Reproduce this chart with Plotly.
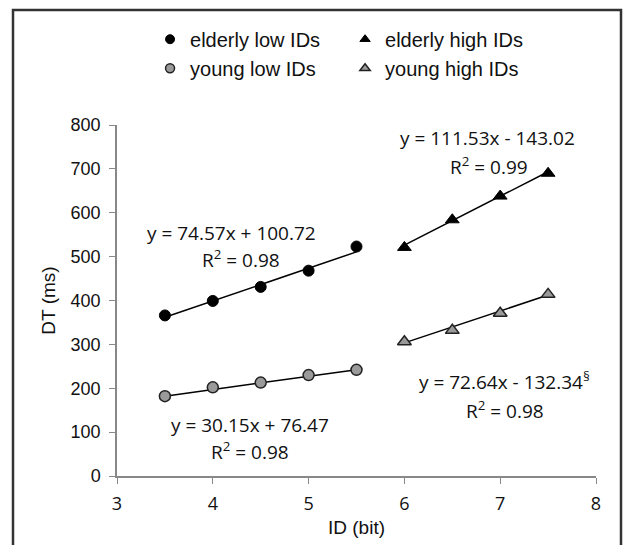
import plotly.graph_objects as go
import numpy as np

# ---- data ----
id_low = [3.5, 4.0, 4.5, 5.0, 5.5]
id_high = [6.0, 6.5, 7.0, 7.5]
elderly_low = [366, 399, 431, 468, 523]
young_low = [182, 202, 213, 230, 242]
elderly_high = [521, 584, 638, 690]
young_high = [306, 332, 371, 414]

# trendline coefficients as printed on the chart (slope, intercept)
fit_elderly_low = (74.57, 100.72)
fit_young_low = (30.15, 76.47)
fit_elderly_high = (111.53, -143.02)
fit_young_high = (72.64, -132.34)

x_ticks = [3, 4, 5, 6, 7, 8]
y_ticks = [0, 100, 200, 300, 400, 500, 600, 700, 800]

eq_texts = ["y = 74.57x + 100.72", "y = 111.53x - 143.02",
            "y = 30.15x + 76.47", "y = 72.64x - 132.34<sup>§</sup>"]
r2_texts = ["R<sup>2</sup> = 0.98", "R<sup>2</sup> = 0.99",
            "R<sup>2</sup> = 0.98", "R<sup>2</sup> = 0.98"]

fig = go.Figure()


def trend(xs, coef):
    xs = np.array([min(xs), max(xs)])
    return xs, coef[0] * xs + coef[1]


for xs, coef in [(id_low, fit_elderly_low), (id_low, fit_young_low),
                 (id_high, fit_elderly_high), (id_high, fit_young_high)]:
    tx, ty = trend(xs, coef)
    fig.add_trace(go.Scatter(x=tx, y=ty, mode="lines", showlegend=False,
                             line=dict(color="black", width=1.5), hoverinfo="skip"))

black_c = dict(symbol="circle", color="black", line=dict(color="black", width=1))
black_t = dict(symbol="triangle-up", color="black", line=dict(color="black", width=1))
grey_c = dict(symbol="circle", color="#9a9a9a", line=dict(color="#222", width=1.5))
grey_t = dict(symbol="triangle-up", color="#9a9a9a", line=dict(color="#222", width=1.5))

fig.add_trace(go.Scatter(x=id_low, y=elderly_low, mode="markers", showlegend=False,
                         marker=dict(size=11, **black_c)))
fig.add_trace(go.Scatter(x=id_high, y=elderly_high, mode="markers", showlegend=False,
                         marker=dict(size=12, **black_t)))
fig.add_trace(go.Scatter(x=id_low, y=young_low, mode="markers", showlegend=False,
                         marker=dict(size=11, **grey_c)))
fig.add_trace(go.Scatter(x=id_high, y=young_high, mode="markers", showlegend=False,
                         marker=dict(size=12, **grey_t)))

# legend entries (smaller symbols, as in the reference legend)
for name, mk in [("elderly low IDs", black_c), ("elderly high IDs", black_t),
                 ("young low IDs", grey_c), ("young high IDs", grey_t)]:
    fig.add_trace(go.Scatter(x=[None], y=[None], mode="markers", name=name,
                             marker=dict(size=9, **mk)))

ann_font = dict(family="Open Sans", size=19, color="#111")
# (x, y) of each text line in data coordinates
eq_pos = [(4.20, 554), (6.87, 770), (4.39, 116), (7.05, 216)]
r2_pos = [(4.29, 494), (6.88, 707), (4.39, 58), (7.05, 150)]
for (px, py), t in zip(eq_pos, eq_texts):
    fig.add_annotation(x=px, y=py, text=t, showarrow=False, font=ann_font)
for (px, py), t in zip(r2_pos, r2_texts):
    fig.add_annotation(x=px, y=py, text=t, showarrow=False, font=ann_font)

fig.update_layout(
    width=633, height=545,
    margin=dict(l=109, r=45, t=117, b=77),
    paper_bgcolor="white", plot_bgcolor="white",
    font=dict(family="Liberation Sans", size=18, color="#111"),
    legend=dict(orientation="h", x=0.069, y=1.30, xanchor="left", yanchor="top",
                entrywidth=150, font=dict(family="Liberation Sans", size=20, color="#111"),
                bgcolor="rgba(0,0,0,0)", itemsizing="trace"),
    xaxis=dict(range=[3, 8], tickvals=x_ticks, showgrid=False, zeroline=False,
               showline=True, linecolor="#888", linewidth=1.5, ticks="outside",
               tickcolor="#888", ticklen=6, ticklabelstandoff=5,
               tickfont=dict(family="Open Sans", size=18),
               title=dict(text="ID (bit)", font=dict(family="Liberation Sans", size=19),
                          standoff=6)),
    yaxis=dict(range=[0, 800], tickvals=y_ticks, showgrid=False, zeroline=False,
               showline=True, linecolor="#888", linewidth=1.5, ticks="outside",
               tickcolor="#888", ticklen=6, ticklabelstandoff=5,
               tickfont=dict(family="Liberation Sans", size=18),
               title=dict(text="DT (ms)", font=dict(family="Liberation Sans", size=19),
                          standoff=10)),
    shapes=[dict(type="rect", xref="paper", yref="paper",
                 x0=(13 - 117) / 479, x1=(621 - 117) / 479,
                 y0=-0.35, y1=(476 - 10) / 351,
                 line=dict(color="#333", width=2.5), fillcolor="rgba(0,0,0,0)")],
)

fig.write_html("out.html")
